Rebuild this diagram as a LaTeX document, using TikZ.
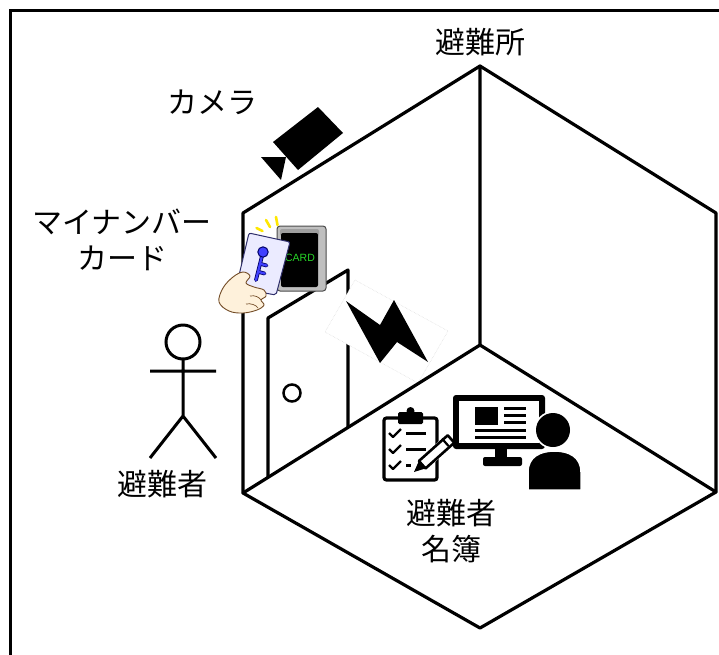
\documentclass[tikz,border=0pt]{standalone}
\usepackage{fontspec}
\newfontfamily\jpfont{Noto Sans CJK JP}
\newfontfamily\cardfont{Liberation Sans}
\definecolor{cardgreen}{RGB}{40,215,40}
\begin{document}
\begin{tikzpicture}[x=1pt,y=-1pt,
  wall/.style={line width=3.2pt,line join=round,line cap=round},
  jplabel/.style={font=\jpfont\fontsize{30}{36}\selectfont,align=center,inner sep=0pt},
  stick/.style={line width=3pt},
  halo/.style={draw=white,line width=3.5pt},
  keyline/.style={line cap=round,line join=round}]
\useasboundingbox (0,0) rectangle (719,654);
\fill[white] (0,0) rectangle (719,654);

% outer frame
\draw[line width=3pt] (10,660) -- (10,10) -- (725,10);

% room corners
\coordinate (T)  at (480,66);
\coordinate (UL) at (243,213);
\coordinate (LL) at (243,493);
\coordinate (B)  at (480,628);
\coordinate (LR) at (716,492);
\coordinate (UR) at (716,213);
\coordinate (C)  at (480,345);

% door on the left wall
\draw[wall] (268,477) -- (268,318) -- (348,270) -- (348,427);
\draw[line width=2.5pt] (292,393) circle (8.5);

% lightning sign
\draw[fill=white,draw=gray!30,line width=0.5pt,densely dotted]
  (355,280) -- (448,331) -- (418,383) -- (325,332) -- cycle;
\fill (346,301) -- (380,325) -- (394,300) -- (428,362) -- (397,342) -- (380,363) -- cycle;

% room outline
\draw[wall] (T) -- (UL) -- (LL) -- (B) -- (LR) -- (UR) -- cycle;
\draw[wall] (T) -- (C) -- (LL);
\draw[wall] (C) -- (LR);

% camera
\fill (273,142) -- (318,107) -- (343,133) -- (298,170) -- cycle;
\fill (261,157) -- (286,157) -- (281,180) -- cycle;

% card reader
\draw[fill=gray!50,draw=gray!60!black,line width=1pt,rounded corners=3] (277,226) rectangle (326,291);
\fill[gray!75,rounded corners=2] (280,229) rectangle (319,236);
\fill[black,rounded corners=2] (281,233) rectangle (318,287);
\node[font=\cardfont\fontsize{10.5}{11}\selectfont,text=cardgreen,inner sep=0pt] (cardtext) at (300,258) {CARD};

% card with key
\draw[fill=blue!8,draw=gray!60!blue!60!black,line width=1pt,rounded corners=2]
  (249,233) -- (290,242) -- (276,295) -- (236,288) -- cycle;
\draw[keyline,draw=blue!40!black,line width=3.8pt] (262,256) -- (256,280) (261,264) -- (266.5,265.5) (259,272) -- (264.5,273.5);
\draw[keyline,draw=blue!75!white,line width=2.2pt] (262,256) -- (256,280) (261,264) -- (266.5,265.5) (259,272) -- (264.5,273.5);
\draw[fill=blue!75!white,draw=blue!40!black,line width=1pt] (263,252) circle (5.2);

% hand holding the card
\draw[fill=yellow!15!orange!12,draw=brown!60!black,line width=0.9pt,line join=round]
  plot[smooth cycle,tension=0.6] coordinates {(219,302) (223,288) (233,277) (243,272) (250,276) (246,283) (254,287) (264,290) (266,296) (261,300) (264,305) (257,310) (243,313) (229,311)};
\draw[brown!60!black,line width=0.7pt] (250,296) .. controls (255,295) and (259,297) .. (261,300);
\draw[brown!60!black,line width=0.7pt] (246,304) .. controls (251,303) and (256,305) .. (258,308);

% sparkle marks
\draw[yellow!90!orange,line width=2.6pt,line cap=round]
  (256.5,228) -- (262.5,231)
  (266,220) -- (270,227)
  (276,217) -- (277.5,225);

% evacuee
\draw[stick] (183,342) circle (17);
\draw[stick] (183,359) -- (183,416) (150,371) -- (216,371) (150,458) -- (183,416) -- (216,458);

% clipboard
\draw[fill=white,line width=3.2pt,rounded corners=2.5] (384,418) rectangle (437,480);
\fill[rounded corners=1.5] (398,412) rectangle (423,424);
\fill (410.5,411) circle (4);
\foreach \yy in {433,449,465}
  \draw[line width=2.4pt,line join=round] (389,\yy) -- (393,\yy+4) -- (401,\yy-4);
\draw[line width=3pt] (406,433) -- (426,433) (406,449) -- (426,449) (406,465) -- (411,465);
% pencil
\draw[white,line width=3pt,fill=white] (425.5,468.4) -- (454.3,442.7) -- (447.7,435.3) -- (418.9,461.0) -- cycle;
\draw[line width=2.6pt,fill=white,line join=round] (425.5,468.4) -- (454.3,442.7) -- (447.7,435.3) -- (418.9,461.0) -- cycle;
\draw[line width=2.2pt] (448.5,446) -- (442,438.6);
\fill (414,472) -- (425.5,468.4) -- (418.9,461.0) -- cycle;

% monitor
\fill[rounded corners=3] (453,395) rectangle (545,449);
\fill[white] (459,401) rectangle (539,443);
\fill (475,407) rectangle (498,425);
\fill (504,406.5) rectangle (526,409.5);
\fill (504,413.5) rectangle (526,416.5);
\fill (504,420.5) rectangle (526,423.5);
\fill (475,428.5) rectangle (526,431.5);
\fill (475,435.5) rectangle (526,438.5);
\fill (495,448) rectangle (507,459);
\fill[rounded corners=2] (483,457) rectangle (522,466);

% operator
\draw[halo,fill=black] (553,430) circle (17);
\draw[halo,fill=black] (527,491) -- (527,472) .. controls (527,456) and (540,450) .. (554.5,450)
  .. controls (569,450) and (582,456) .. (582,472) -- (582,491) -- cycle;
\fill (553,430) circle (17);

% labels
\node[jplabel] (shelter) at (480,42) {避難所};
\node[jplabel] (camlabel) at (212,102) {カメラ};
\node[jplabel] (cardlabel) at (122,240) {マイナンバー\\カード};
\node[jplabel] (evac) at (162,484) {避難者};
\node[jplabel] (roster) at (451,531) {避難者\\名簿};
\end{tikzpicture}
\end{document}
